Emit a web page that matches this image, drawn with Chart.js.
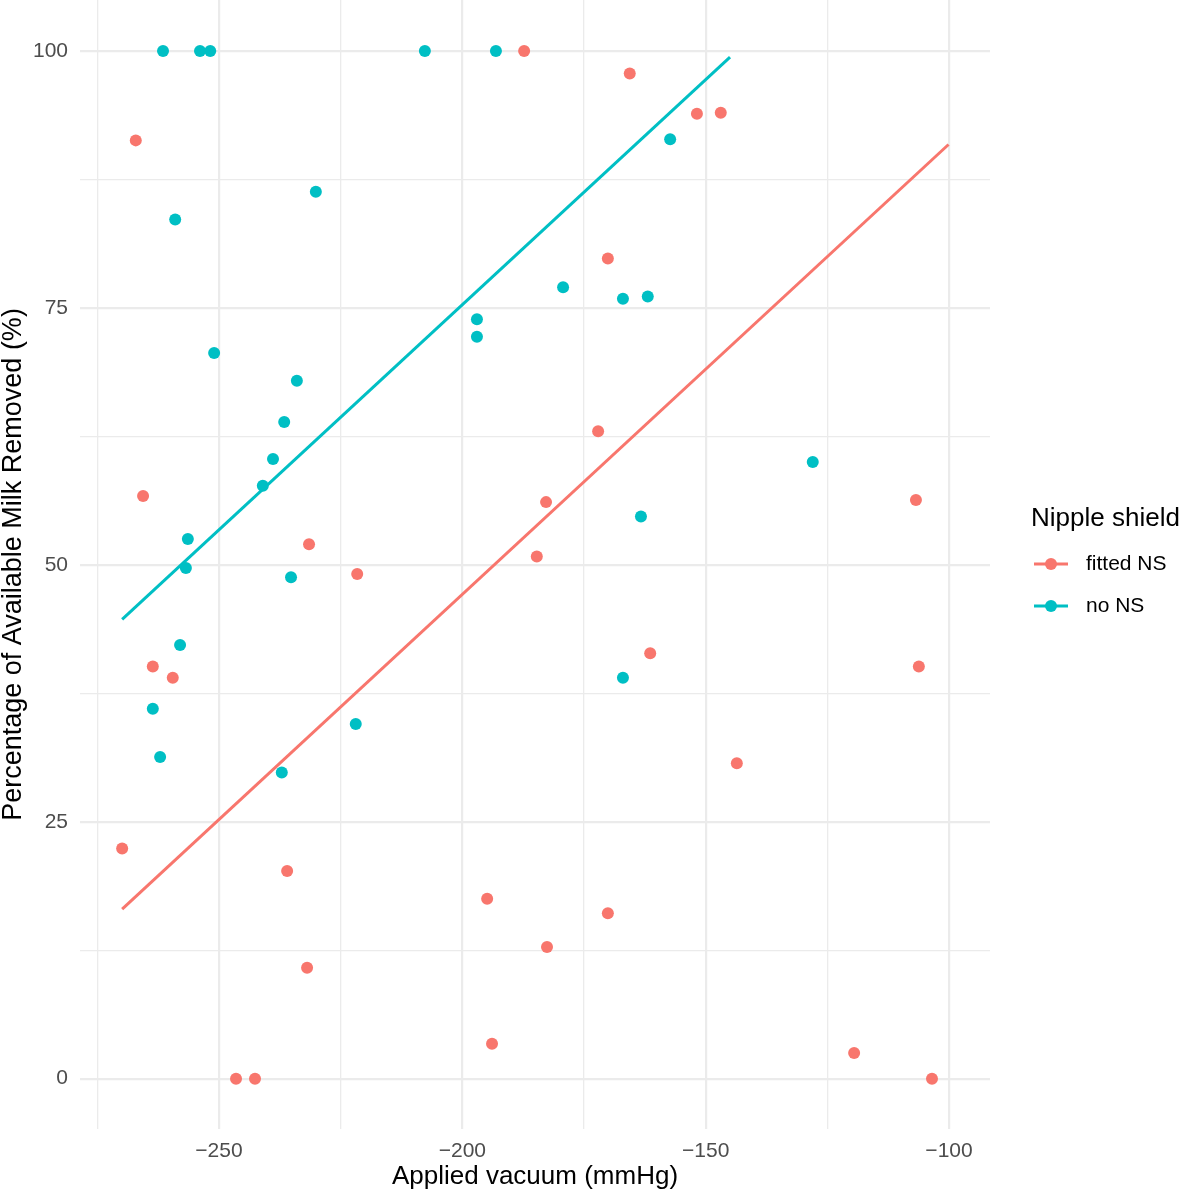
<html lang="en">
<head>
<meta charset="utf-8"/>
<script src="https://cdn.jsdelivr.net/npm/chart.js@4.4.1/dist/chart.umd.min.js"></script>
<title>Applied vacuum vs milk removed</title>
<style>
    body { margin : 0 ; background : white ; }
    #wrap { width : 1181px ; height : 1196px ; }
</style>
</head>
<body>
<div id="wrap"><canvas id="vacuum_chart" width="1181" height="1196"></canvas></div>
<script>
    // points
    const fittedX = [-187.3,-165.6,-151.8,-146.9,-267.1,-170.1,-172.1,-265.6,-182.8,-106.8,-231.5,-184.7,-221.6,-263.6,-106.2,-161.4,-259.5,-143.6,-269.9,-236.0,-194.9,-170.1,-231.9,-182.6,-193.9,-119.5,-246.5,-242.6,-103.5];
    const fittedY = [100,97.8,93.9,94.0,91.3,79.8,63.0,56.7,56.1,56.3,52.0,50.8,49.1,40.1,40.1,41.4,39.0,30.7,22.4,20.2,17.5,16.1,10.8,12.8,3.4,2.5,0,0,0];
    const noX = [-261.5,-253.9,-251.8,-207.7,-193.1,-157.3,-259.0,-230.1,-179.3,-167.0,-161.9,-197.0,-197.0,-251.0,-234.0,-236.6,-238.9,-241.0,-128.0,-256.4,-163.3,-256.8,-235.2,-258.0,-263.6,-167.0,-221.9,-262.1,-237.1];
    const noY = [100,100,100,100,100,91.4,83.6,86.3,77.0,75.9,76.1,73.9,72.2,70.6,67.9,63.9,60.3,57.7,60.0,52.5,54.7,49.7,48.8,42.2,36.0,39.0,34.5,31.3,29.8];
    // fitted lines (end points)
    const fittedLineX = [-269.9,-100.1];
    const fittedLineY = [16.5,90.9];
    const noLineX = [-269.9,-145.0];
    const noLineY = [44.7,99.4];

    const xTicks = [-275,-250,-225,-200,-175,-150,-125,-100];
    const xMajor = [-250,-200,-150,-100];
    const yTicks = [0,12.5,25,37.5,50,62.5,75,87.5,100];
    const yMajor = [0,25,50,75,100];

    const groups = ["fitted NS","no NS"];
    const colors = ["#F8766D","#00BFC4"];
    const fontFam = "'Liberation Sans', Arial, Helvetica, sans-serif";

    function pts(xs, ys) {
        return xs.map((x,i) => ({x: x, y: ys[i]}));
    }

    const gridW = (major) => (c) => major.includes(c.tick.value) ? 2.2 : 1.3;

    // ggplot style legend on the right
    const legendPlugin = {
        id : "nsLegend",
        afterDraw(chart) {
            const ctx = chart.ctx;
            ctx.save();
            ctx.fillStyle = "#000";
            ctx.textBaseline = "alphabetic";
            ctx.textAlign = "left";
            ctx.font = "26px " + fontFam;
            ctx.fillText("Nipple shield", 1031, 526);
            ctx.font = "21px " + fontFam;
            ctx.textBaseline = "middle";
            for (let k = 0; k < groups.length; k++) {
                const y = 564 + k*42;
                ctx.strokeStyle = colors[k];
                ctx.lineWidth = 3;
                ctx.beginPath();
                ctx.moveTo(1034, y);
                ctx.lineTo(1068, y);
                ctx.stroke();
                ctx.fillStyle = colors[k];
                ctx.beginPath();
                ctx.arc(1051, y, 6, 0, Math.PI*2);
                ctx.fill();
                ctx.fillStyle = "#000";
                ctx.fillText(groups[k], 1086, y);
            }
            ctx.restore();
        }
    };

    new Chart("vacuum_chart", {
        type : "scatter",
        data : {
            datasets : [
                {type:"line", data:pts(fittedLineX, fittedLineY), borderColor:colors[0], borderWidth:3, pointRadius:0, fill:false},
                {type:"line", data:pts(noLineX, noLineY), borderColor:colors[1], borderWidth:3, pointRadius:0, fill:false},
                {label:groups[0], data:pts(fittedX, fittedY), backgroundColor:colors[0], borderWidth:0, pointRadius:6, pointHoverRadius:6},
                {label:groups[1], data:pts(noX, noY), backgroundColor:colors[1], borderWidth:0, pointRadius:6, pointHoverRadius:6}
            ]
        },
        options : {
            responsive : false,
            animation : false,
            layout : { autoPadding : false, padding : {left:0, right:191, top:0, bottom:0} },
            plugins : { legend : {display:false}, tooltip : {enabled:false} },
            scales : {
                x : {
                    type : "linear",
                    min : -278.56, max : -91.58,
                    afterBuildTicks : (s) => { s.ticks = xTicks.map(v => ({value:v})); },
                    afterFit : (s) => { s.height = 67; s.paddingLeft = 0; s.paddingRight = 0; },
                    border : {display:false},
                    grid : {color:"#EBEBEB", lineWidth:gridW(xMajor), drawTicks:false},
                    ticks : {
                        padding : 10, color : "#4D4D4D", maxRotation : 0, autoSkip : false,
                        font : {family:fontFam, size:21},
                        callback : (v) => xMajor.includes(v) ? String(v).replace("-", "\u2212") : ""
                    },
                    title : {display:true, text:"Applied vacuum (mmHg)", color:"#000",
                        font:{family:fontFam, size:26}, padding:{top:0, bottom:4}}
                },
                y : {
                    type : "linear",
                    min : -4.9, max : 104.96,
                    afterBuildTicks : (s) => { s.ticks = yTicks.map(v => ({value:v})); },
                    afterFit : (s) => { s.width = 80; s.paddingTop = 0; s.paddingBottom = 0; },
                    border : {display:false},
                    grid : {color:"#EBEBEB", lineWidth:gridW(yMajor), drawTicks:false},
                    ticks : {
                        padding : 12, color : "#4D4D4D", autoSkip : false,
                        font : {family:fontFam, size:21},
                        callback : (v) => yMajor.includes(v) ? String(v) : ""
                    },
                    title : {display:true, text:"Percentage of Available Milk Removed (%)", color:"#000",
                        font:{family:fontFam, size:27, lineHeight:1.04}, padding:{top:0, bottom:0}}
                }
            }
        },
        plugins : [legendPlugin]
    });
</script>
</body>
</html>
